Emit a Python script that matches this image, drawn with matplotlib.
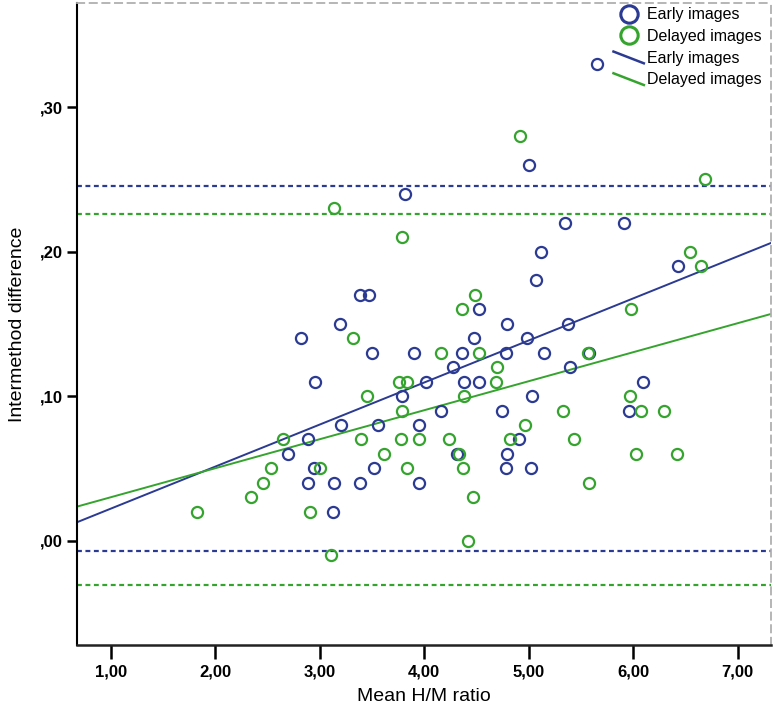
import matplotlib
matplotlib.use("Agg")
import matplotlib.pyplot as plt
import numpy as np
from matplotlib.lines import Line2D
from matplotlib.legend_handler import HandlerBase
from matplotlib.ticker import FuncFormatter

# ---------------- data ----------------
early_x = [3.19, 2.815, 3.50, 2.955, 3.204, 2.891, 3.556, 2.691, 2.945, 3.52, 2.888, 3.14, 3.383, 3.124,
           5.00, 3.82, 5.35, 5.91, 5.12, 5.07, 5.65, 6.43, 3.38, 3.47,
           4.52, 4.79, 4.48, 5.38, 4.98, 3.90, 4.36, 4.78, 5.15, 4.28, 5.40, 4.02, 4.38, 4.52,
           3.79, 5.03, 4.16, 4.74, 3.95, 4.91, 4.31, 4.79, 4.78, 5.02, 3.95,
           5.58, 6.09, 5.96]
early_y = [0.15, 0.14, 0.13, 0.11, 0.08, 0.07, 0.08, 0.06, 0.05, 0.05, 0.04, 0.04, 0.04, 0.02,
           0.26, 0.24, 0.22, 0.22, 0.20, 0.18, 0.33, 0.19, 0.17, 0.17,
           0.16, 0.15, 0.14, 0.15, 0.14, 0.13, 0.13, 0.13, 0.13, 0.12, 0.12, 0.11, 0.11, 0.11,
           0.10, 0.10, 0.09, 0.09, 0.08, 0.07, 0.06, 0.06, 0.05, 0.05, 0.04,
           0.13, 0.11, 0.09]

delayed_x = [3.32, 3.456, 2.643, 3.398, 2.531, 3.0, 2.457, 2.34, 1.82, 2.907, 3.105,
             4.92, 3.79, 4.49, 3.134, 6.69, 6.54, 6.65,
             4.36, 4.16, 4.52, 4.70, 3.76, 3.83, 4.69, 4.38, 3.79, 5.33, 4.96, 3.78, 3.95, 4.24,
             4.82, 5.43, 3.61, 4.33, 3.83, 4.37, 4.47, 4.42,
             5.98, 5.57, 5.97, 6.08, 6.30, 6.03, 6.42, 5.58]
delayed_y = [0.14, 0.10, 0.07, 0.07, 0.05, 0.05, 0.04, 0.03, 0.02, 0.02, -0.01,
             0.28, 0.21, 0.17, 0.23, 0.25, 0.20, 0.19,
             0.16, 0.13, 0.13, 0.12, 0.11, 0.11, 0.11, 0.10, 0.09, 0.09, 0.08, 0.07, 0.07, 0.07,
             0.07, 0.07, 0.06, 0.06, 0.05, 0.05, 0.03, 0.00,
             0.16, 0.13, 0.10, 0.09, 0.09, 0.06, 0.06, 0.04]

# fitted lines (intercept, slope)
early_fit = (-0.0069, 0.02908)
delayed_fit = (0.0100, 0.02006)

# limits of agreement (upper, lower)
early_loa = (0.2455, -0.0071)
delayed_loa = (0.2259, -0.0307)

labels = ["Early images", "Delayed images"]
x_ticks = [1, 2, 3, 4, 5, 6, 7]
y_ticks = [0.0, 0.1, 0.2, 0.3]

# ---------------- style ----------------
BLUE = "#2b3a92"
GREEN = "#35a42e"
plt.rcParams['font.family'] = ['Liberation Sans', 'DejaVu Sans']

fig = plt.figure(figsize=(7.74, 7.13), dpi=100)
ax = fig.add_axes([0.0995, 0.0954, 0.8966, 0.9004])

xlim = (0.675, 7.32)
ylim = (-0.0722, 0.372)
ax.set_xlim(*xlim)
ax.set_ylim(*ylim)

# reference lines
dash = (0, (2.2, 1.6))
for val, col in [(early_loa[0], BLUE), (early_loa[1], BLUE),
                 (delayed_loa[0], GREEN), (delayed_loa[1], GREEN)]:
    ax.axhline(val, color=col, lw=1.6, linestyle=dash, zorder=1)

# regression lines
xx = np.array(xlim)
ax.plot(xx, early_fit[0] + early_fit[1] * xx, color=BLUE, lw=1.4, zorder=2)
ax.plot(xx, delayed_fit[0] + delayed_fit[1] * xx, color=GREEN, lw=1.4, zorder=2)

# scatter
ms = 8
ax.plot(early_x, early_y, 'o', mfc='none', mec=BLUE, mew=1.6, ms=ms, zorder=3, linestyle='none')
ax.plot(delayed_x, delayed_y, 'o', mfc='none', mec=GREEN, mew=1.6, ms=ms, zorder=3, linestyle='none')

# spines
ax.spines['left'].set_color('black')
ax.spines['left'].set_linewidth(1.5)
ax.spines['bottom'].set_color('#222222')
ax.spines['bottom'].set_linewidth(1.8)
ax.spines['bottom'].set_linestyle((0, (3, 1)))
for s in ['top', 'right']:
    ax.spines[s].set_color('#b0b0b0')
    ax.spines[s].set_linewidth(1.3)
    ax.spines[s].set_linestyle((0, (4, 3)))

ax.set_xticks(x_ticks)
ax.set_yticks(y_ticks)
ax.xaxis.set_major_formatter(FuncFormatter(lambda v, p: f"{v:.2f}".replace('.', ',')))
ax.yaxis.set_major_formatter(FuncFormatter(lambda v, p: f"{v:.2f}".replace('0.', ',', 1).replace('.', ',')))
ax.tick_params(axis='x', direction='out', length=10, width=1.8, labelsize=12, pad=4, colors='black')
ax.tick_params(axis='y', direction='out', length=7, width=1.8, labelsize=12, pad=3, colors='black')
for t in ax.get_xticklabels() + ax.get_yticklabels():
    t.set_fontweight('bold')

ax.set_xlabel("Mean H/M ratio", fontsize=14, labelpad=6)
ax.set_ylabel("Intermethod difference", fontsize=14, labelpad=10)


class HandlerDiag(HandlerBase):
    def create_artists(self, legend, orig_handle, xdescent, ydescent, width, height, fontsize, trans):
        x0 = -xdescent
        x1 = -xdescent + width
        y0 = -ydescent + height * 1.0
        y1 = -ydescent - height * 0.05
        ln = Line2D([x0, x1], [y0, y1], color=orig_handle.get_color(), lw=orig_handle.get_linewidth(),
                    transform=trans)
        return [ln]


h1 = Line2D([], [], marker='o', mfc='none', mec=BLUE, mew=2.2, ms=12.5, linestyle='none')
h2 = Line2D([], [], marker='o', mfc='none', mec=GREEN, mew=2.2, ms=12.5, linestyle='none')
h3 = Line2D([], [], color=BLUE, lw=1.8)
h4 = Line2D([], [], color=GREEN, lw=1.8)
leg = ax.legend([h1, h2, h3, h4], [labels[0], labels[1], labels[0], labels[1]],
                handler_map={h3: HandlerDiag(), h4: HandlerDiag()},
                loc='upper right', bbox_to_anchor=(0.99, 0.997), frameon=False,
                fontsize=11.5, handlelength=1.9, handletextpad=0.2, labelspacing=0.42,
                borderaxespad=0.0, borderpad=0.15)

fig.savefig("out.png", dpi=100)
